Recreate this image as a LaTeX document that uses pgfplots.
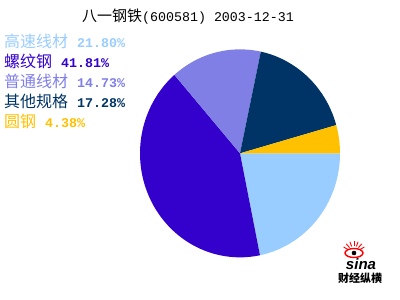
\documentclass[border=0pt]{standalone}
\usepackage{fontspec}
\usepackage{pgfplots}
\pgfplotsset{compat=1.18}
\setmainfont{Liberation Sans}
\newfontfamily\cjk{Noto Sans CJK SC}
\newfontfamily\mono{Liberation Mono}
\definecolor{cA}{HTML}{99CCFF}
\definecolor{cB}{HTML}{3300CC}
\definecolor{cC}{HTML}{7F7FE6}
\definecolor{cD}{HTML}{003366}
\definecolor{cE}{HTML}{FFC000}
% shares in percent
\def\pA{21.80}\def\pB{41.81}\def\pC{14.73}\def\pD{17.28}\def\pE{4.38}
\newcommand\legrow[2]{\fontsize{16}{16}\selectfont\cjk #1\hspace{9pt}\mono\bfseries\fontsize{13.3}{13}\selectfont #2\%}
\begin{document}
\begin{tikzpicture}[x=1pt,y=1pt]
\path[use as bounding box] (0,0) rectangle (400,300);
\pgfmathsetmacro\aA{-3.6*\pA}
\pgfmathsetmacro\aB{\aA-3.6*\pB}
\pgfmathsetmacro\aC{\aB-3.6*\pC}
\pgfmathsetmacro\aD{\aC-3.6*\pD}
\pgfmathsetmacro\aE{\aD-3.6*\pE}
\begin{axis}[hide axis, scale only axis, width=200pt, height=208pt,
  xmin=-1, xmax=1, ymin=-1, ymax=1, at={(140,41)}, anchor=south west,
  clip=false, samples=80, variable=\t]
\addplot[draw=none, fill=cA, domain=\aA:0] ({cos(t)},{sin(t)}) -- (axis cs:0,0) -- cycle;
\addplot[draw=none, fill=cB, domain=\aB:\aA] ({cos(t)},{sin(t)}) -- (axis cs:0,0) -- cycle;
\addplot[draw=none, fill=cC, domain=\aC:\aB] ({cos(t)},{sin(t)}) -- (axis cs:0,0) -- cycle;
\addplot[draw=none, fill=cD, domain=\aD:\aC] ({cos(t)},{sin(t)}) -- (axis cs:0,0) -- cycle;
\addplot[draw=none, fill=cE, domain=\aE:\aD] ({cos(t)},{sin(t)}) -- (axis cs:0,0) -- cycle;
\end{axis}
% title
\node[anchor=west, inner sep=0] at (82,283) {\fontsize{15}{15}\selectfont\cjk 八一钢铁\mono\fontsize{13.3}{13}\selectfont(600581) 2003-12-31};
% legend
\node[anchor=west, inner sep=0, text=cA] at (4,259) {\legrow{高速线材}{21.80}};
\node[anchor=west, inner sep=0, text=cB] at (4,239) {\legrow{螺纹钢}{41.81}};
\node[anchor=west, inner sep=0, text=cC] at (4,219) {\legrow{普通线材}{14.73}};
\node[anchor=west, inner sep=0, text=cD] at (4,199) {\legrow{其他规格}{17.28}};
\node[anchor=west, inner sep=0, text=cE] at (4,179) {\legrow{圆钢}{4.38}};
% sina logo
\draw[red, line width=1.4pt] (354,47) ellipse (9 and 4.5);
\fill (354,47) circle (2.3);
\foreach \ang in {30,50,70,90,110,130,150} {\draw[red, line width=0.9pt] (354,47) ++(\ang:7) -- ++(\ang:5);}
\node[inner sep=0] at (361,36) {\fontsize{15}{15}\selectfont\bfseries\itshape sina};
\node[inner sep=0] at (360,22) {\fontsize{11}{11}\selectfont\cjk\bfseries 财经纵横};
\end{tikzpicture}
\end{document}
